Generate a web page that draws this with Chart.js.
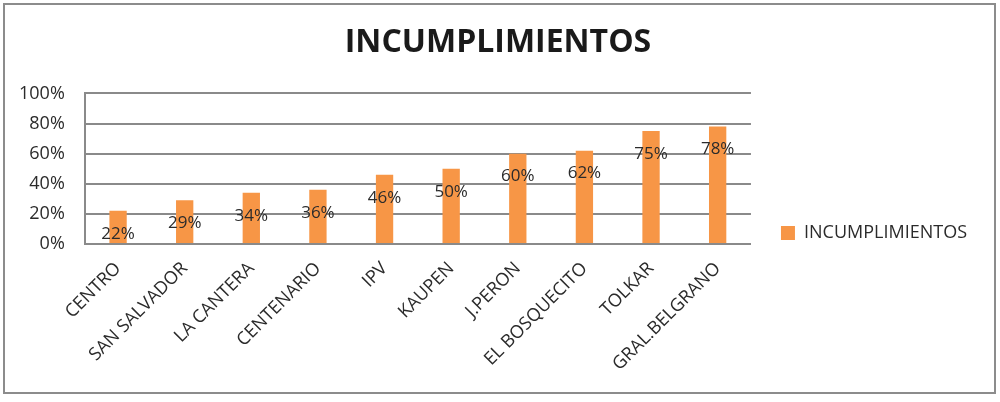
<!DOCTYPE html>
<html>
<head>
<meta charset="utf-8">
<script src="https://cdn.jsdelivr.net/npm/chart.js@4.4.0/dist/chart.umd.min.js"></script>
<style>
  body { margin: 0; background: #fff; }
</style>
</head>
<body>
<canvas id="myChart" width="1000" height="402"></canvas>
<script>
var categories = ["CENTRO", "SAN SALVADOR", "LA CANTERA", "CENTENARIO", "IPV", "KAUPEN", "J.PERON", "EL BOSQUECITO", "TOLKAR", "GRAL.BELGRANO"];
var values = [0.22, 0.29, 0.34, 0.36, 0.46, 0.50, 0.60, 0.62, 0.75, 0.78];
var yTicks = [0, 0.2, 0.4, 0.6, 0.8, 1.0];
var seriesName = "INCUMPLIMIENTOS";

var barColor = "#f79646";
var textColor = "#2b2b2b";
var fontName = "'Open Sans', sans-serif";

// outer frame of the picture
var framePlugin = {
    id: "frame",
    afterDraw: function (chart) {
        var ctx = chart.ctx;
        ctx.save();
        ctx.strokeStyle = "#8c8c8c";
        ctx.lineWidth = 2;
        ctx.strokeRect(4, 4, 991, 389);
        ctx.restore();
    }
};

// push the legend down next to the lower half of the plot
var legendShift = {
    id: "legendShift",
    afterLayout: function (chart) {
        chart.legend.top = 194;
    }
};

// percent labels sit a bit below the top of each bar
var valueLabels = {
    id: "valueLabels",
    afterDatasetsDraw: function (chart) {
        var ctx = chart.ctx;
        var meta = chart.getDatasetMeta(0);
        ctx.save();
        ctx.font = "17px " + fontName;
        ctx.fillStyle = textColor;
        ctx.textAlign = "center";
        ctx.textBaseline = "middle";
        meta.data.forEach(function (bar, i) {
            ctx.fillText(Math.round(values[i] * 100) + "%", bar.x, bar.y + 23);
        });
        ctx.restore();
    }
};

new Chart("myChart", {
    type: "bar",
    data: {
        labels: categories,
        datasets: [{
            label: seriesName,
            backgroundColor: barColor,
            data: values,
            barPercentage: 0.26,
            categoryPercentage: 1.0
        }]
    },
    options: {
        responsive: false,
        animation: false,
        layout: { padding: { left: 19, right: 23, top: 8, bottom: 21 } },
        plugins: {
            legend: {
                position: "right",
                align: "start",
                labels: {
                    boxWidth: 14,
                    boxHeight: 14,
                    padding: 30,
                    color: textColor,
                    font: { family: fontName, size: 18 }
                }
            },
            title: {
                display: true,
                text: "INCUMPLIMIENTOS",
                color: "#1a1a1a",
                font: { family: fontName, size: 32, weight: "bold" },
                padding: { top: 16, bottom: 31 }
            },
            tooltip: { enabled: false }
        },
        scales: {
            y: {
                min: 0,
                max: 1,
                afterBuildTicks: function (axis) {
                    axis.ticks = yTicks.map(function (v) { return { value: v }; });
                },
                // keep the plot's left edge close to the labels
                afterFit: function (axis) {
                    axis.width = axis.width - 20;
                },
                ticks: {
                    padding: 20,
                    color: textColor,
                    font: { family: fontName, size: 18 },
                    callback: function (value) {
                        return Math.round(value * 100) + "%";
                    }
                },
                grid: { color: "#8a8a8a", lineWidth: 2, drawTicks: false },
                border: { color: "#8a8a8a", width: 2 }
            },
            x: {
                ticks: {
                    minRotation: 45,
                    maxRotation: 45,
                    padding: 6,
                    color: textColor,
                    font: { family: fontName, size: 18 }
                },
                grid: { display: false },
                border: { color: "#8a8a8a", width: 2 }
            }
        }
    },
    plugins: [framePlugin, legendShift, valueLabels]
});
</script>
</body>
</html>
